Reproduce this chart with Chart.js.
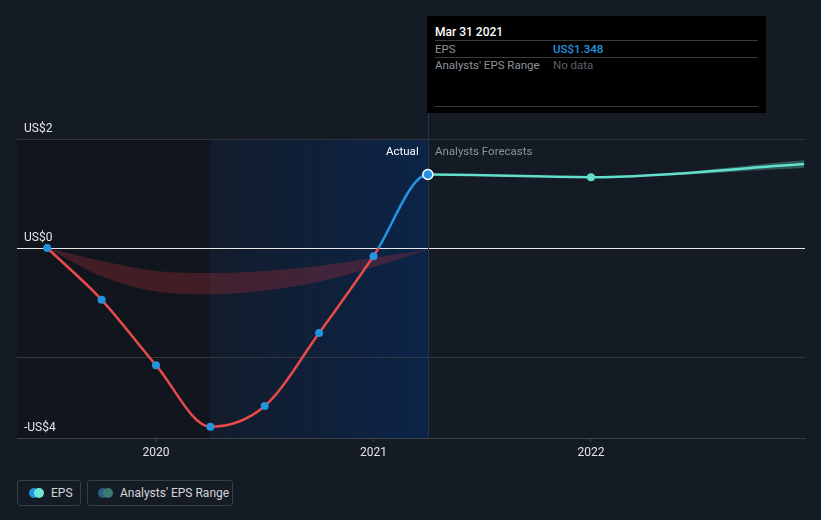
<!DOCTYPE html>
<html>
<head>
<meta charset="utf-8">
<script src="https://cdn.jsdelivr.net/npm/chart.js@4.4.0/dist/chart.umd.min.js"></script>
<style>
  html, body { margin: 0; padding: 0; background: #151b24; }
  body { width: 821px; height: 520px; position: relative; overflow: hidden; font-family: Roboto, "Noto Sans", sans-serif; }
  #wrap { position: absolute; left: 0; top: 0; width: 821px; height: 470px; }
  .tip { position: absolute; left: 427px; top: 16px; width: 339px; height: 97px; background: #000; }
  .tip .t { position: absolute; left: 8px; top: 9px; color: #fff; font-size: 12px; font-weight: 500; }
  .tip .sep { position: absolute; left: 8px; width: 323px; height: 1px; background: #3a3a3a; }
  .tip .lbl { position: absolute; left: 8px; color: #8d939b; font-size: 11.5px; }
  .tip .val { position: absolute; left: 126px; font-size: 11.5px; }
  .mark { position: absolute; top: 144px; font-size: 11.5px; }
  .legend { position: absolute; top: 480px; height: 26px; border: 1px solid #373d46; border-radius: 3px; box-sizing: border-box; }
  .legend .dot { position: absolute; top: 7px; width: 10px; height: 10px; border-radius: 50%; }
  .legend span { position: absolute; top: 5px; color: #d3d6db; font-size: 12px; white-space: nowrap; }
</style>
</head>
<body>
<div id="wrap"><canvas id="grafico" width="821" height="470"></canvas></div>

<div class="tip">
  <div class="t">Mar 31 2021</div>
  <div class="sep" style="top:24px"></div>
  <div class="lbl" style="top:26px">EPS</div>
  <div class="val" style="top:26px;color:#2394df;font-weight:500">US$1.348</div>
  <div class="sep" style="top:41px"></div>
  <div class="lbl" style="top:42px">Analysts' EPS Range</div>
  <div class="val" style="top:42px;color:#5c6168">No data</div>
  <div class="sep" style="top:90px"></div>
</div>

<div class="mark" style="left:386px;color:#fff">Actual</div>
<div class="mark" style="left:435px;color:#8d939b">Analysts Forecasts</div>

<div class="legend" style="left:17px;width:64px">
  <div class="dot" style="left:11px;background:#2394df"></div>
  <div class="dot" style="left:16px;background:#6ee7d3"></div>
  <span style="left:33px">EPS</span>
</div>
<div class="legend" style="left:87px;width:146px">
  <div class="dot" style="left:10px;background:#2b5d82"></div>
  <div class="dot" style="left:15px;background:#3d7a74"></div>
  <span style="left:32px">Analysts' EPS Range</span>
</div>

<script>
// Datos (años decimales, EPS en US$)
const actualYears = [2019.5, 2019.75, 2020.0, 2020.25, 2020.5, 2020.75, 2021.0, 2021.25];
const actualEps = [0, -0.95, -2.15, -3.28, -2.9, -1.56, -0.15, 1.348];

const pastRangeHigh = [0, -0.24, -0.42, -0.46, -0.42, -0.33, -0.18, -0.03];
const pastRangeLow = [0, -0.52, -0.80, -0.85, -0.78, -0.62, -0.35, -0.03];

const forecastYears = [2021.25, 2022.0, 2022.98];
const forecastEps = [1.348, 1.30, 1.54];
const forecastLow = [1.348, 1.295, 1.47];
const forecastHigh = [1.348, 1.305, 1.61];

const xTicks = [2020, 2021, 2022];
const yTicks = [-3.486, -2, 0, 2];
const yLabels = { '2': 'US$2', '0': 'US$0', '-2': '', '-3.486': '-US$4' };

const pasadoFin = 2020.25;   // inicio de la zona azul
const hoy = 2021.25;         // fin de datos reales

const toPts = (xs, ys) => xs.map((x, i) => ({ x, y: ys[i] }));

// Serie continua: real + previsión (sin repetir el punto de hoy)
const epsYears = actualYears.concat(forecastYears.slice(1));
const epsValues = actualEps.concat(forecastEps.slice(1));
const nReal = actualYears.length;

Chart.defaults.font.family = 'Roboto, "Noto Sans", sans-serif';
Chart.defaults.font.size = 12;

// Zonas de fondo y línea vertical
const fondo = {
  id: 'fondo',
  beforeDraw(chart) {
    const { ctx, chartArea: a, scales: { x } } = chart;
    const xa = x.getPixelForValue(pasadoFin);
    const xb = x.getPixelForValue(hoy);
    ctx.save();
    ctx.fillStyle = 'rgba(0,0,0,0.16)';
    ctx.fillRect(a.left, a.top, xa - a.left, a.bottom - a.top);
    const g = ctx.createLinearGradient(xa, 0, xb, 0);
    g.addColorStop(0, 'rgba(7,40,90,0.15)');
    g.addColorStop(1, 'rgba(7,42,95,0.62)');
    ctx.fillStyle = g;
    ctx.fillRect(xa, a.top, xb - xa, a.bottom - a.top);
    ctx.restore();
  },
  beforeDatasetsDraw(chart) {
    const { ctx, chartArea: a, scales: { x } } = chart;
    const xb = Math.round(x.getPixelForValue(hoy)) + 0.5;
    ctx.save();
    ctx.strokeStyle = '#1d3452';
    ctx.lineWidth = 1;
    ctx.beginPath();
    ctx.moveTo(xb, 113);
    ctx.lineTo(xb, a.bottom);
    ctx.stroke();
    ctx.restore();
  }
};

function colorEps(context) {
  const chart = context.chart;
  const { chartArea, scales } = chart;
  if (!chartArea) return '#e84a4a';
  const y0 = scales.y.getPixelForValue(0);
  let r = (y0 - chartArea.top) / (chartArea.bottom - chartArea.top);
  r = Math.min(Math.max(r, 0), 1);
  const g = chart.ctx.createLinearGradient(0, chartArea.top, 0, chartArea.bottom);
  g.addColorStop(0, '#2394df');
  g.addColorStop(r, '#2394df');
  g.addColorStop(r, '#e84a4a');
  g.addColorStop(1, '#e84a4a');
  return g;
}

const radio = epsYears.map((x, i) => {
  if (i < nReal - 1) return 4;
  if (i === nReal - 1) return 5;
  return i === epsYears.length - 1 ? 0 : 4;
});
const relleno = epsYears.map((x, i) => i < nReal ? '#2394df' : '#63e0cb');
const borde = epsYears.map((x, i) => i === nReal - 1 ? '#ffffff' : relleno[i]);
const bordeAncho = epsYears.map((x, i) => i === nReal - 1 ? 1.5 : 0);

new Chart(document.getElementById('grafico'), {
  type: 'line',
  data: {
    datasets: [
      {
        label: 'EPS',
        data: toPts(epsYears, epsValues),
        borderColor: colorEps,
        borderWidth: 2.5,
        cubicInterpolationMode: 'monotone',
        segment: {
          borderColor: c => c.p0.parsed.x >= hoy ? '#63e0cb' : undefined
        },
        pointRadius: radio,
        pointBackgroundColor: relleno,
        pointBorderColor: borde,
        pointBorderWidth: bordeAncho,
        fill: false
      },
      {
        label: 'Forecast high',
        data: toPts(forecastYears, forecastHigh),
        borderWidth: 0,
        pointRadius: 0,
        cubicInterpolationMode: 'monotone',
        fill: false
      },
      {
        label: 'Forecast low',
        data: toPts(forecastYears, forecastLow),
        borderWidth: 0,
        pointRadius: 0,
        cubicInterpolationMode: 'monotone',
        backgroundColor: 'rgba(99,224,203,0.3)',
        fill: '-1'
      },
      {
        label: 'Past high',
        data: toPts(actualYears, pastRangeHigh),
        borderWidth: 0,
        pointRadius: 0,
        cubicInterpolationMode: 'monotone',
        fill: false
      },
      {
        label: 'Past low',
        data: toPts(actualYears, pastRangeLow),
        borderWidth: 0,
        pointRadius: 0,
        cubicInterpolationMode: 'monotone',
        backgroundColor: 'rgba(180,45,55,0.3)',
        fill: '-1'
      }
    ]
  },
  options: {
    responsive: false,
    animation: false,
    layout: { padding: { left: 10, right: 16, top: 139, bottom: 0 } },
    plugins: { legend: { display: false }, tooltip: { enabled: false } },
    scales: {
      x: {
        type: 'linear',
        min: 2019.361,
        max: 2022.984,
        afterBuildTicks: s => { s.ticks = xTicks.map(v => ({ value: v })); },
        afterFit: s => { s.height = 32; },
        ticks: { color: '#e2e4e7', padding: 4, maxRotation: 0, callback: v => String(v) },
        grid: { display: true, drawOnChartArea: false, drawTicks: true, tickLength: 4, color: '#3b414a' },
        border: { display: true, color: '#3b414a' }
      },
      y: {
        min: -3.486,
        max: 2,
        afterBuildTicks: s => { s.ticks = yTicks.map(v => ({ value: v })); },
        afterFit: s => { s.width = 7; },
        ticks: {
          mirror: true,
          padding: 7,
          labelOffset: -10,
          color: '#e2e4e7',
          callback: v => yLabels[String(v)]
        },
        grid: {
          drawTicks: false,
          color: c => c.tick && c.tick.value === 0 ? '#e6e6e6' : '#323842'
        },
        border: { display: false }
      }
    }
  },
  plugins: [fondo]
});
</script>
</body>
</html>
